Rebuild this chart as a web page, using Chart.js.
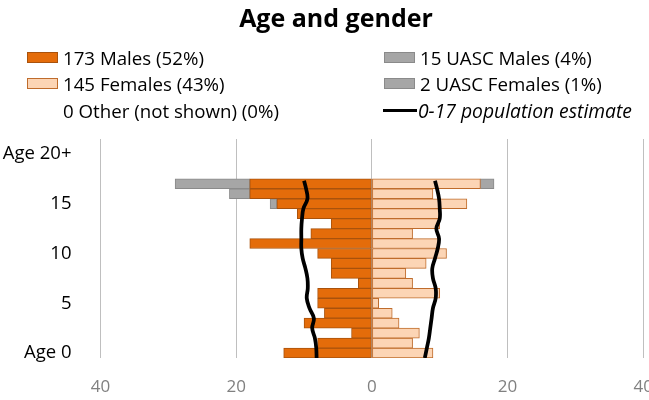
<!DOCTYPE html>
<html>
<head>
<meta charset="utf-8">
<script src="https://cdn.jsdelivr.net/npm/chart.js@4/dist/chart.umd.min.js"></script>
<style>
  html, body { margin: 0; padding: 0; background: #fff; overflow: hidden; width: 649px; height: 400px; }
  #wrap { position: absolute; left: 0; top: 0; width: 672px; height: 400px; }
  #legend { position: absolute; left: 0; top: 0; font-family: "Open Sans", sans-serif; font-size: 18.7px; color: #000; }
  .item { position: absolute; white-space: nowrap; display: flex; align-items: center; height: 24px; }
  .box { width: 31px; height: 11px; box-sizing: border-box; border: 1px solid; margin-right: 5px; }
  .ln { width: 34px; height: 3px; background: #000; margin-right: 1px; }
</style>
</head>
<body>
<div id="wrap"><canvas id="chart" width="672" height="400"></canvas></div>
<div id="legend"></div>
<script>
// y-axis categories (age 0 at bottom), only every 5th one gets a label
const ageLabels = ['Age 0', '', '', '', '', '5', '', '', '', '', '10', '', '', '', '', '15', '', '', '', '', 'Age 20+', ''];

// counts per age, index 0 = age 0
const males = [13, 8, 3, 10, 7, 8, 8, 2, 6, 6, 8, 18, 9, 6, 11, 14, 18, 18];
const uascMales = [0, 0, 0, 0, 0, 0, 0, 0, 0, 0, 0, 0, 0, 0, 0, 1, 3, 11];
const females = [9, 6, 7, 4, 3, 1, 10, 6, 5, 8, 11, 10, 6, 10, 10, 14, 9, 16];
const uascFemales = [0, 0, 0, 0, 0, 0, 0, 0, 0, 0, 0, 0, 0, 0, 0, 0, 0, 2];

// 0-17 population estimate line, read off at the row edges
const popAges = [-0.5, 0.5, 1.5, 2.5, 3.5, 4.5, 5.5, 6.5, 7.5, 8.5, 9.5, 10.5, 11.5, 12.5, 13.5, 14.5, 15.5, 16.5, 17.3];
const popMales = [8.15, 8.2, 8.4, 8.8, 8.55, 9.2, 9.6, 9.45, 9.5, 9.8, 10.2, 10.4, 10.4, 10.4, 10.3, 10.1, 9.5, 9.7, 10.0];
const popFemales = [7.8, 8.1, 8.4, 8.6, 8.8, 9.0, 9.4, 9.4, 9.0, 8.9, 9.3, 9.7, 9.9, 9.5, 10.0, 10.0, 9.9, 9.6, 9.3];

const xTicks = [-40, -20, 0, 20, 40];

const legendItems = [
  { text: '173 Males (52%)', x: 27, y: 57, fill: '#E46C0A', border: '#A9520C' },
  { text: '145 Females (43%)', x: 27, y: 83.5, fill: '#FCD5B5', border: '#BF6C2C' },
  { text: '0 Other (not shown) (0%)', x: 63, y: 110 },
  { text: '15 UASC Males (4%)', x: 384, y: 57, fill: '#A6A6A6', border: '#8A8A8A' },
  { text: '2 UASC Females (1%)', x: 384, y: 83.5, fill: '#A6A6A6', border: '#8A8A8A' },
  { text: '0-17 population estimate', x: 383, y: 110, line: true }
];

// bygger legenden i html, Chart.js legend kan inte göra två kolumner så här
const legend = document.getElementById('legend');
legendItems.forEach(item => {
  const div = document.createElement('div');
  div.className = 'item';
  div.style.left = item.x + 'px';
  div.style.top = (item.y - 12) + 'px';
  if (item.fill) {
    const b = document.createElement('span');
    b.className = 'box';
    b.style.background = item.fill;
    b.style.borderColor = item.border;
    div.appendChild(b);
  }
  if (item.line) {
    const l = document.createElement('span');
    l.className = 'ln';
    div.appendChild(l);
  }
  const t = document.createElement('span');
  t.textContent = item.text;
  if (item.line) {
    t.style.fontStyle = 'italic';
    t.style.fontSize = '19.3px';
  }
  div.appendChild(t);
  legend.appendChild(div);
});

const font = '"Open Sans", sans-serif';

// gemensamma inställningar för staplarna (grouped: false annars blir de smala)
const barBase = {
  borderWidth: 1,
  borderSkipped: false,
  barPercentage: 1,
  categoryPercentage: 1,
  grouped: false
};

const lineBase = {
  type: 'line',
  yAxisID: 'yl',
  order: -1,
  borderColor: '#000',
  borderWidth: 3.75,
  pointRadius: 0,
  tension: 0.4,
  fill: false
};

new Chart(document.getElementById('chart'), {
  type: 'bar',
  data: {
    labels: ageLabels,
    datasets: [
      {
        ...lineBase,
        label: 'Population males',
        stack: 'popM',
        data: popAges.map((a, i) => ({ x: -popMales[i], y: a }))
      },
      {
        ...lineBase,
        label: 'Population females',
        stack: 'popF',
        data: popAges.map((a, i) => ({ x: popFemales[i], y: a }))
      },
      {
        ...barBase,
        label: 'Males',
        data: males.map(v => -v),
        backgroundColor: '#E46C0A',
        borderColor: '#A9520C'
      },
      {
        ...barBase,
        label: 'UASC Males',
        data: uascMales.map(v => -v),
        backgroundColor: '#A6A6A6',
        borderColor: '#8A8A8A'
      },
      {
        ...barBase,
        label: 'Females',
        data: females,
        backgroundColor: '#FCD5B5',
        borderColor: '#BF6C2C'
      },
      {
        ...barBase,
        label: 'UASC Females',
        data: uascFemales,
        backgroundColor: '#A6A6A6',
        borderColor: '#8A8A8A'
      }
    ]
  },
  options: {
    responsive: false,
    animation: false,
    indexAxis: 'y',
    layout: { padding: { left: 0, right: 0, bottom: 3, top: 0 } },
    plugins: {
      legend: { display: false },
      tooltip: { enabled: false },
      title: {
        display: true,
        text: 'Age and gender',
        color: '#000',
        font: { family: font, size: 25, weight: 'bold', lineHeight: 1.2 },
        padding: { top: 5, bottom: 104 }
      }
    },
    scales: {
      x: {
        stacked: true,
        min: -40,
        max: 40,
        afterBuildTicks: axis => { axis.ticks = xTicks.map(v => ({ value: v })); },
        afterFit: axis => { axis.height = 39; },
        ticks: {
          color: '#808080',
          font: { family: font, size: 17 },
          padding: 19,
          maxRotation: 0,
          callback: v => Math.abs(v)
        },
        grid: { color: '#BFBFBF', drawTicks: false },
        border: { display: false }
      },
      y: {
        stacked: true,
        reverse: true,
        afterFit: axis => { axis.width = 100.5; },
        ticks: {
          autoSkip: false,
          color: '#000',
          font: { family: font, size: 18.5 },
          padding: 21
        },
        grid: { display: false },
        border: { display: false }
      },
      yl: {
        type: 'linear',
        display: false,
        offset: false,
        min: -0.5,
        max: 21.5
      }
    }
  }
});
</script>
</body>
</html>
